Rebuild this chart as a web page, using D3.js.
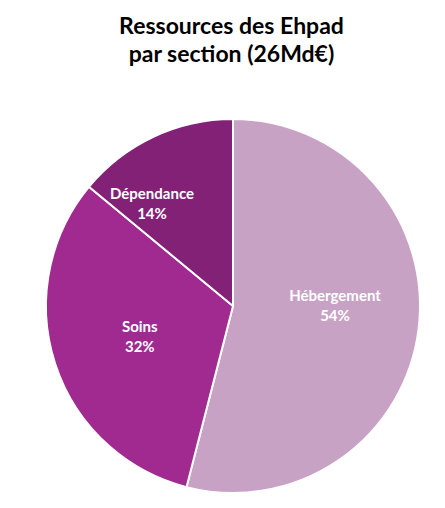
<!DOCTYPE html>
<html>
<head>
<meta charset="utf-8">
<script src="https://cdn.jsdelivr.net/npm/d3@7"></script>
<style>
	body { margin: 0; background: #ffffff; }
	svg { display: block; }
</style>
</head>
<body>
<svg id="chart" width="445" height="508"></svg>
<script>
const sections = ["Hébergement", "Soins", "Dépendance"];
const shares = [54, 32, 14];
const titleLines = ["Ressources des Ehpad", "par section (26Md€)"];

const colors = {
	"Hébergement": "#C8A2C4",
	"Soins": "#A02A90",
	"Dépendance": "#832177",
};

// label placement: radius, angular nudge (degrees)
const labelPlace = {
	"Hébergement": { r: 102, nudge: -8 },
	"Soins": { r: 98, nudge: 0 },
	"Dépendance": { r: 131, nudge: -13 },
};

const width = 445;
const cx = 233;
const cy = 306;
const radius = 187;
const font = "Lato, 'Open Sans', sans-serif";

const svg = d3.select("#chart");

svg.append("g")
	.selectAll("text")
	.data(titleLines)
	.join("text")
	.attr("x", width / 2 + 9)
	.attr("y", (d, i) => 34 + i * 28)
	.attr("text-anchor", "middle")
	.attr("font-family", font)
	.attr("font-weight", "bold")
	.attr("font-size", 23)
	.attr("fill", "#000")
	.text((d) => d);

const data = sections.map((s, i) => ({ label: s, value: shares[i] }));

const pie = d3.pie().sort(null).value((d) => d.value);
const arc = d3.arc().innerRadius(0).outerRadius(radius);

const g = svg.append("g").attr("transform", `translate(${cx},${cy})`);

const slices = pie(data);

g.selectAll(".slice")
	.data(slices)
	.join("path")
	.attr("class", "slice")
	.attr("d", arc)
	.attr("fill", (d) => colors[d.data.label])
	.attr("stroke", "#fff")
	.attr("stroke-width", 2)
	.attr("stroke-linejoin", "round");

const label = g.selectAll(".label")
	.data(slices)
	.join("text")
	.attr("class", "label")
	.attr("text-anchor", "middle")
	.attr("font-family", font)
	.attr("font-weight", "bold")
	.attr("font-size", 15)
	.attr("fill", "#fff")
	.attr("transform", (d) => {
		const p = labelPlace[d.data.label];
		const a = (d.startAngle + d.endAngle) / 2 + (p.nudge * Math.PI) / 180;
		return `translate(${p.r * Math.sin(a)},${-p.r * Math.cos(a)})`;
	});

label.append("tspan")
	.attr("x", 0)
	.attr("y", -4)
	.text((d) => d.data.label);

label.append("tspan")
	.attr("x", 0)
	.attr("y", 16)
	.text((d) => d.data.value + "%");
</script>
</body>
</html>
